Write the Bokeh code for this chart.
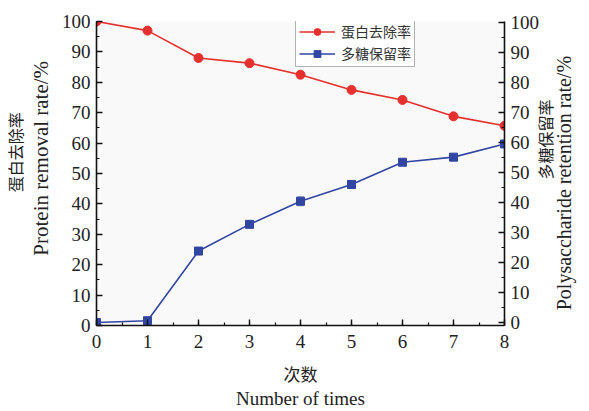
from math import pi
from bokeh.plotting import figure
from bokeh.models import (Range1d, LinearAxis, SingleIntervalTicker, FixedTicker,
                          Whisker, ColumnDataSource, Legend, LegendItem, TeeHead)
from bokeh.embed import file_html
from bokeh.resources import INLINE

# Extraction rounds and measured rates (%)
times = [0, 1, 2, 3, 4, 5, 6, 7, 8]
protein_removal = [100, 97.0, 88.0, 86.3, 82.5, 77.5, 74.2, 68.8, 65.7]
protein_err = [0.3, 1.0, 0.5, 0.5, 1.0, 0.5, 0.5, 0.5, 0.5]
poly_retention = [0, 0.6, 23.8, 32.7, 40.4, 46.0, 53.4, 55.1, 59.5]
poly_err = [0.3, 0.6, 0.6, 0.6, 1.5, 0.6, 0.6, 0.6, 0.6]

RED = "#e5302d"
BLUE = "#3146a3"
SERIF = "Liberation Serif"
# serif metrics first so CJK text boxes stay compact; glyphs fall back to Noto
CJK = "Liberation Serif, Noto Sans CJK SC"
INK = "#222222"

src = ColumnDataSource(dict(
    x=times,
    pr=protein_removal,
    pr_lo=[v - e for v, e in zip(protein_removal, protein_err)],
    pr_hi=[v + e for v, e in zip(protein_removal, protein_err)],
    ps=poly_retention,
    ps_lo=[v - e for v, e in zip(poly_retention, poly_err)],
    ps_hi=[v + e for v, e in zip(poly_retention, poly_err)],
))

p = figure(width=589, height=411, output_backend="svg", toolbar_location=None,
           x_range=Range1d(0, 8), y_range=Range1d(0, 100),
           min_border_left=96, min_border_right=85,
           min_border_top=21, min_border_bottom=86,
           background_fill_color="#f9f9f9", border_fill_color="white",
           outline_line_color=None)
p.extra_y_ranges = {"right": Range1d(-1, 100.3)}
p.grid.visible = False


def style_axis(ax, interval):
    ax.ticker = SingleIntervalTicker(interval=interval, num_minor_ticks=2)
    ax.axis_line_width = 1.6
    ax.axis_line_color = "#111111"
    ax.major_tick_in = 6
    ax.major_tick_out = 0
    ax.minor_tick_in = 3
    ax.minor_tick_out = 0
    ax.major_tick_line_width = 1.4
    ax.minor_tick_line_width = 1.2
    ax.major_tick_line_color = "#111111"
    ax.minor_tick_line_color = "#111111"
    ax.major_label_text_font = SERIF
    ax.major_label_text_font_size = "19px"
    ax.major_label_text_color = INK
    ax.major_label_standoff = 6
    ax.axis_label = None
    ax.axis_label_standoff = 0


def title_axis(side, text, at, font, size, standoff, orientation):
    # A bare axis whose single tick label carries one line of an axis title
    ax = LinearAxis(ticker=FixedTicker(ticks=[at], minor_ticks=[]),
                    major_label_overrides={at: text},
                    major_label_orientation=orientation,
                    major_label_text_font=font,
                    major_label_text_font_size=size,
                    major_label_text_color=INK,
                    major_label_standoff=standoff,
                    axis_label=None, axis_label_standoff=0,
                    axis_line_color=None, major_tick_line_color=None,
                    minor_tick_line_color=None,
                    major_tick_in=0, major_tick_out=0,
                    minor_tick_in=0, minor_tick_out=0)
    p.add_layout(ax, side)
    return ax


xa = p.xaxis[0]
style_axis(xa, 1)
xa.major_label_standoff = 9

ya = p.yaxis[0]
style_axis(ya, 10)

right = LinearAxis(y_range_name="right")
style_axis(right, 10)
p.add_layout(right, "right")

# Titles, innermost line first on each side
title_axis("left", "Protein removal rate/%", 55, SERIF, "21px", 5, "vertical")
title_axis("left", "蛋白去除率", 57, CJK, "16px", 1, "vertical")
title_axis("right", "多糖保留率", 48, CJK, "16px", 4, pi / 2)
title_axis("right", "Polysaccharide retention rate/%", 5, SERIF, "20px", -2, pi / 2)
title_axis("below", "次数", 4, CJK, "17px", 15, "horizontal")
title_axis("below", "Number of times", 4, SERIF, "19px", 0, "horizontal")

# Error bars
for lo, hi, col, yr in (("pr_lo", "pr_hi", RED, "default"),
                        ("ps_lo", "ps_hi", BLUE, "right")):
    w = Whisker(source=src, base="x", lower=lo, upper=hi,
                line_color=col, line_alpha=0.5, line_width=1.2,
                upper_head=TeeHead(size=7, line_color=col, line_alpha=0.5),
                lower_head=TeeHead(size=7, line_color=col, line_alpha=0.5),
                y_range_name=yr)
    p.add_layout(w)

# Protein removal rate (left axis)
r1l = p.line("x", "pr", source=src, line_color=RED, line_width=1.6)
r1m = p.scatter("x", "pr", source=src, marker="circle", size=9,
                fill_color=RED, line_color=RED)

# Polysaccharide retention rate (right axis)
r2l = p.line("x", "ps", source=src, line_color=BLUE, line_width=1.6,
             y_range_name="right")
r2m = p.scatter("x", "ps", source=src, marker="square", size=8,
                fill_color=BLUE, line_color=BLUE, y_range_name="right")

legend = Legend(items=[LegendItem(label="蛋白去除率", renderers=[r1l, r1m]),
                       LegendItem(label="多糖保留率", renderers=[r2l, r2m])],
                location=(199, 258),
                label_text_font=CJK, label_text_font_size="14px",
                label_text_color="#333333",
                glyph_width=36, glyph_height=17, label_height=17,
                label_standoff=6, spacing=2, padding=3, margin=0,
                border_line_color="#666666", border_line_width=1,
                background_fill_color="white", background_fill_alpha=1)
p.add_layout(legend)

open("out.html", "w").write(file_html(p, INLINE))
